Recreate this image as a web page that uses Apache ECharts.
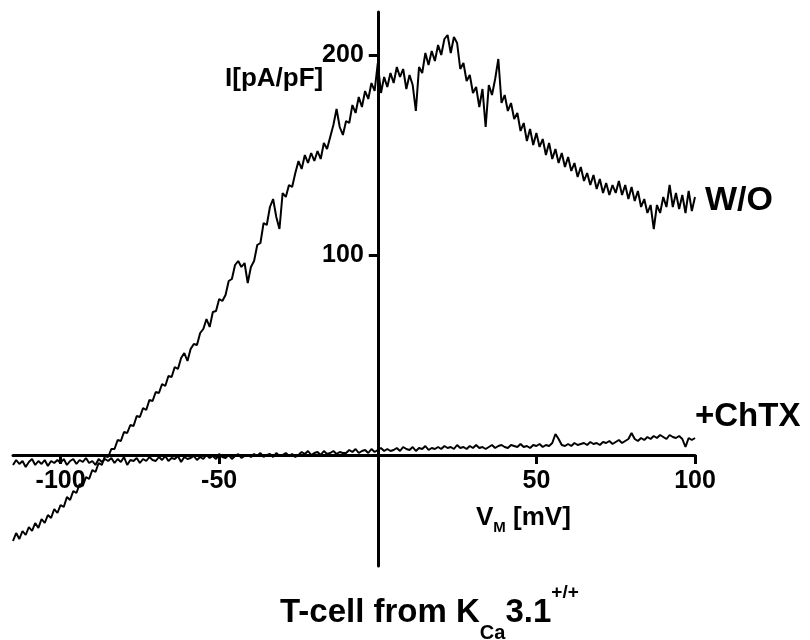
<!DOCTYPE html>
<html>
<head>
<meta charset="utf-8">
<script src="https://cdn.jsdelivr.net/npm/echarts@6/dist/echarts.min.js"></script>
<style>
html,body{margin:0;padding:0;background:#fff;}
#chart{width:810px;height:640px;}
</style>
</head>
<body>
<div id="chart"></div>
<script>
// Membrane voltage sampling (mV): start and step of the voltage ramp
const V_START = -115;
const V_STEP = 1;

// Current density I [pA/pF], without blocker (W/O), one value per mV from -115 to 100
const woValues = [
  -43,-39,-42,-38,-40,-36,-38,-34,-36.5,-32,-34,-30,-31.5,-27,-29,
  -25,-26,-21,-22.5,-18,-19,-14.5,-15.5,-11,-12,-7.5,-8.5,-4,-5,-0.5,
  -1,3,3,7.5,7,11.5,11,15,14.5,19.5,19,23.5,22.5,27.5,27,
  31.5,31,35.5,34.5,39.5,39,44,43,48.5,51,47,53,55.5,55,61,
  63,68,64,71.5,72,78,77,80,87,88,95,97,94,96,86,
  94,97,105,106,116,115,124,128,119,113,131,129,135,134,141,
  147,143,150,146,151,147,152,148,156,153,159,165,173,164,160,
  167,166,175,171,179,174,182,178,186,182,196,181,189,184,191,
  186,194,189,193,183,190,185,172,194,191,201,195,202,197,205,
  200,208,210,201,209,206,193,196,187,190,181,184,174,183,164,
  185,180,188,198,176,180,172,176,168,171,162,166,157,163,155,
  161,154,158,150,156,148,153,146,151,144,149,142,146,139,144,
  137,141,135,140,133,138,131,136,130,135,131,137,130,135,128,
  134,127,132,124,128,121,125,113,125,121,129,124,135,124,131,
  123,130,121,132,122,129
];

// Current density I [pA/pF] with charybdotoxin (+ChTX), one value per mV from -115 to 100
const chtxValues = [
  -5,-2.5,-4.5,-3,-6,-3.5,-2,-5,-3,-4.5,-2.5,-5.5,-3,-4,-2.5,
  -4,-2,-5,-3,-2,-4.5,-2.5,-3.5,-1.5,-4,-3,-5,-2,-3.5,-2,
  -3,-1.5,-4,-2,-3.5,-1,-5,-2.5,-3,-1.5,-4,-2,-3,-1,-2.5,
  -3,-1,-2.5,-0.5,-3,-1.5,-2,-0.5,-3.5,-1,-2,-1.5,-0.5,-2.5,-1,
  -2,0,-1.5,-0.5,-2,0.5,-1,-1.5,0,-2,-0.5,0.5,-1.5,-0.5,0,
  -1,0.5,-0.5,1,-1,0,0.5,-1,1,-0.5,0,1,-0.5,0.5,-1,
  0,1.5,0.5,2,0,1,1.5,0,2,0.5,1,2,0.5,1.5,1,
  1,2.5,1.5,3,1,2,2.5,1,3,1.5,2.5,3.5,2,3,2,
  2.5,3.5,2,4,3,2.5,4,2,3.5,3,4.5,2.5,3.5,3,4,
  3,4.5,3.5,4,3,5,3.5,4,3,4.5,3.5,5,3.5,4,3,
  4,5,3.5,4.5,5,4,3.5,5,4.5,4,5.5,4,4.5,3.5,5,
  4.5,5.5,4,5,4.5,6,10.5,8,5,4.5,5.5,4.5,6,5,5.5,
  6,5,6.5,5.5,6,5,6.5,6,7,5.5,6.5,7.5,6,7,8,
  11,8,7,8.5,7.5,9,8,9.5,8.5,10,9,8,10,9,8.5,
  9.5,8,4,8.5,7.5,8.5
];

// Axis ranges and tick values shown on the axes
const X_MIN = -115, X_MAX = 100;
const Y_MIN = -55.5, Y_MAX = 221.5;
const xTickValues = [-100, -50, 50, 100];
const yTickValues = [100, 200];

const toPairs = vals => vals.map((v, i) => [V_START + i * V_STEP, v]);

const FONT = 'Liberation Sans, Arial, Helvetica, sans-serif';

// Grid geometry (pixels)
const G = {left: 13, right: 115, top: 12, bottom: 74};
const gridW = 810 - G.left - G.right;
const gridH = 640 - G.top - G.bottom;
// Axes cross at zero: shift each axis from the grid edge to the zero of the other scale
const xAxisOffset = -((0 - Y_MIN) / (Y_MAX - Y_MIN)) * gridH;
const yAxisOffset = -((0 - X_MIN) / (X_MAX - X_MIN)) * gridW;

const chart = echarts.init(document.getElementById('chart'), null, {renderer: 'canvas'});
chart.setOption({
  animation: false,
  backgroundColor: '#ffffff',
  title: {
    left: 275,
    top: 578,
    text: '{a|T-cell from K}{sub|Ca}{a|3.1}{sup|+/+}',
    textStyle: {
      rich: {
        a: {fontFamily: FONT, fontWeight: 'bold', fontSize: 33, color: '#000', lineHeight: 60, verticalAlign: 'middle'},
        sub: {fontFamily: FONT, fontWeight: 'bold', fontSize: 20, color: '#000', lineHeight: 28, verticalAlign: 'bottom'},
        sup: {fontFamily: FONT, fontWeight: 'bold', fontSize: 19, color: '#000', lineHeight: 22, verticalAlign: 'top'}
      }
    }
  },
  grid: {left: G.left, right: G.right, top: G.top, bottom: G.bottom, containLabel: false, outerBoundsMode: 'none'},
  xAxis: {
    type: 'value',
    min: X_MIN,
    max: X_MAX,
    position: 'bottom',
    offset: xAxisOffset,
    axisLine: {show: true, onZero: false, lineStyle: {color: '#000', width: 3}},
    axisTick: {show: true, customValues: xTickValues, length: 9, lineStyle: {color: '#000', width: 3}},
    axisLabel: {show: true, customValues: xTickValues, margin: 14, color: '#000', fontFamily: FONT, fontWeight: 'bold', fontSize: 25},
    splitLine: {show: false}
  },
  yAxis: {
    type: 'value',
    min: Y_MIN,
    max: Y_MAX,
    position: 'left',
    offset: yAxisOffset,
    axisLine: {show: true, onZero: false, lineStyle: {color: '#000', width: 3}},
    axisTick: {show: true, customValues: yTickValues, length: 9, lineStyle: {color: '#000', width: 3}},
    axisLabel: {show: true, customValues: yTickValues, margin: 14, color: '#000', fontFamily: FONT, fontWeight: 'bold', fontSize: 25},
    splitLine: {show: false}
  },
  graphic: [
    {type: 'text', left: 225, top: 66, style: {text: 'I[pA/pF]', fill: '#000', font: 'bold 26px ' + FONT}},
    {type: 'text', left: 476, top: 505, style: {
      text: '{a|V}{s|M}{a| [mV]}',
      rich: {
        a: {fontFamily: FONT, fontWeight: 'bold', fontSize: 26, fill: '#000', lineHeight: 34, verticalAlign: 'middle'},
        s: {fontFamily: FONT, fontWeight: 'bold', fontSize: 15, fill: '#000', lineHeight: 14, verticalAlign: 'bottom'}
      }
    }}
  ],
  series: [
    {
      name: 'W/O',
      type: 'line',
      data: toPairs(woValues),
      showSymbol: false,
      symbol: 'none',
      lineStyle: {color: '#000', width: 2},
      endLabel: {show: true, formatter: 'W/O', distance: 10, offset: [0, 4], color: '#000', fontFamily: FONT, fontWeight: 'bold', fontSize: 34}
    },
    {
      name: '+ChTX',
      type: 'line',
      data: toPairs(chtxValues),
      showSymbol: false,
      symbol: 'none',
      lineStyle: {color: '#000', width: 2},
      endLabel: {show: true, formatter: '+ChTX', distance: 0, offset: [0, -21], color: '#000', fontFamily: FONT, fontWeight: 'bold', fontSize: 33}
    }
  ]
});
</script>
</body>
</html>
